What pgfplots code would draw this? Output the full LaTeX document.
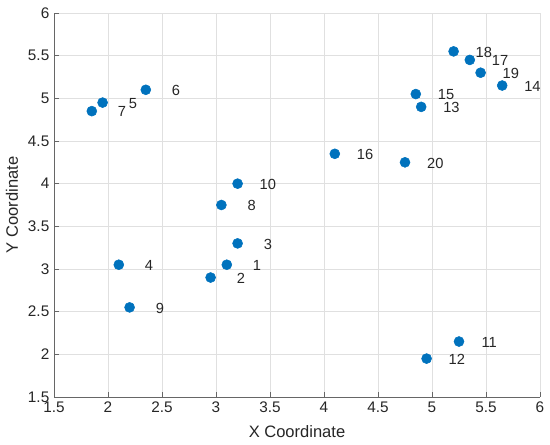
\documentclass[border=0pt]{standalone}
\usepackage{fontspec}
\setmainfont{Liberation Sans}
\usepackage{pgfplots}
\pgfplotsset{compat=1.18}
\definecolor{mblue}{HTML}{0072BD}
\definecolor{txt}{HTML}{262626}

\pgfplotstableread{
x y lab
3.10 3.05 1
2.95 2.90 2
3.20 3.30 3
2.10 3.05 4
1.95 4.95 5
2.35 5.10 6
1.85 4.85 7
3.05 3.75 8
2.20 2.55 9
3.20 4.00 10
5.25 2.15 11
4.95 1.95 12
4.90 4.90 13
5.65 5.15 14
4.85 5.05 15
4.10 4.35 16
5.35 5.45 17
5.20 5.55 18
5.45 5.30 19
4.75 4.25 20
}\points

\begin{document}
\begin{tikzpicture}
\begin{axis}[
    scale only axis,
    width=364.5pt, height=288pt,
    xmin=1.5, xmax=6, ymin=1.5, ymax=6,
    xtick={1.5,2,...,6}, ytick={1.5,2,...,6},
    axis x line*=bottom, axis y line*=left,
    axis line style={black!60, line width=0.6pt},
    tick style={black!60, line width=0.6pt},
    major tick length=3.5pt,
    tick align=inside,
    grid=major,
    grid style={black!12, line width=0.5pt},
    ticklabel style={font=\fontsize{11.5}{13}\selectfont, text=txt},
    /pgf/number format/assume math mode=true,
    xticklabel style={/pgf/number format/.cd, fixed, precision=1},
    yticklabel style={/pgf/number format/.cd, fixed, precision=1},
    xlabel={X Coordinate}, ylabel={Y Coordinate},
    label style={font=\fontsize{12.4}{14}\selectfont, text=txt},
    xlabel style={at={(axis description cs:0.5,0)}, anchor=center, yshift=-26pt},
    ylabel style={at={([xshift=-31.5pt]axis description cs:0,0.5)}, anchor=center},
    point meta=explicit symbolic,
    nodes near coords,
    every node near coord/.append style={font=\fontsize{11}{12}\selectfont, text=txt, anchor=center, inner sep=1pt, xshift=22.7pt, yshift=-0.5pt},
]
\addplot[only marks, mark=*, mark size=3.75pt, mark options={fill=mblue, draw=mblue}]
    table[x=x, y=y, meta=lab] {\points};
\end{axis}
\pgfresetboundingbox
\path[use as bounding box] ([xshift=-40.5pt,yshift=-36pt]current axis.south west) rectangle ([xshift=7.5pt,yshift=9.75pt]current axis.north east);
\end{tikzpicture}
\end{document}
